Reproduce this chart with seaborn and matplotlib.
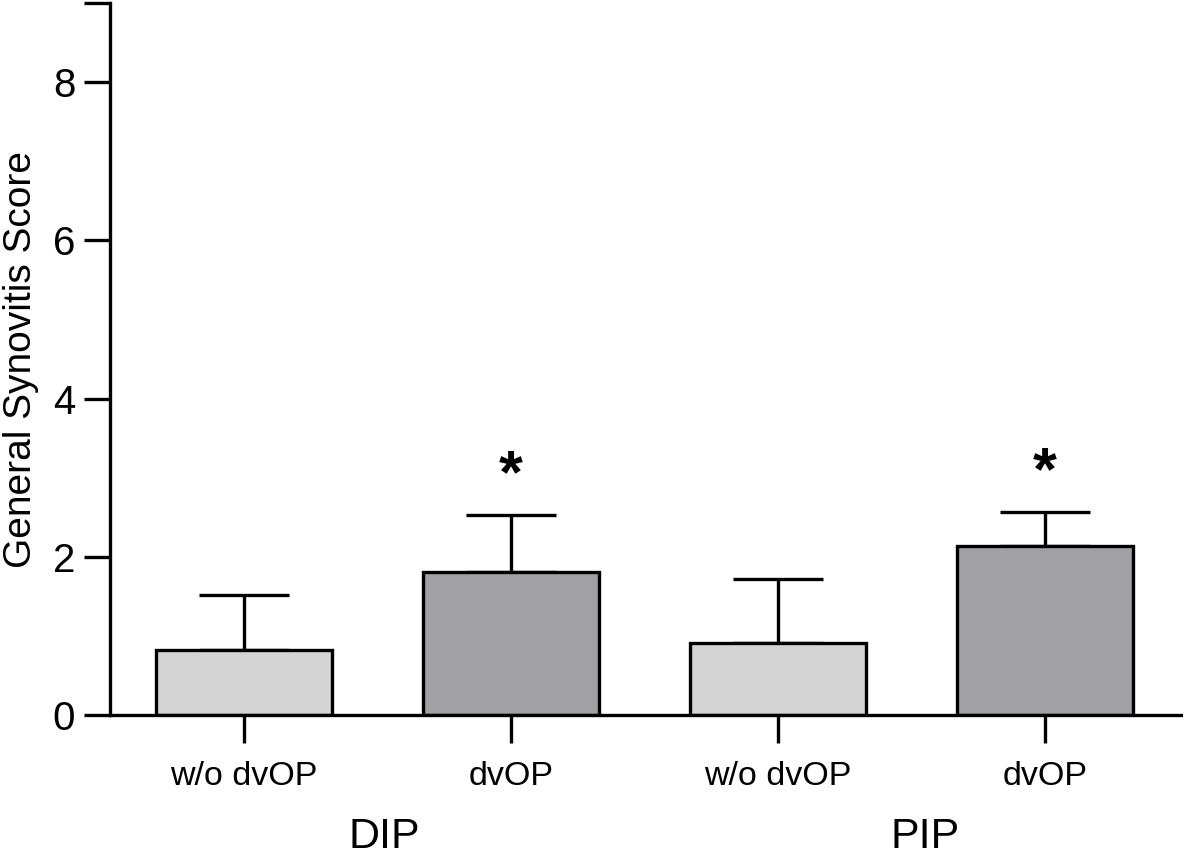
import numpy as np
import pandas as pd
import matplotlib
matplotlib.use("Agg")
import matplotlib.pyplot as plt
import seaborn as sns

# Values
groups = ["w/o dvOP", "dvOP", "w/o dvOP", "dvOP"]
joints = ["DIP", "DIP", "PIP", "PIP"]
means = [0.82, 1.81, 0.91, 2.13]
sd = [0.70, 0.72, 0.81, 0.44]
significant = [False, True, False, True]
bar_colors = ["#d4d4d4", "#a1a0a5", "#d4d4d4", "#a1a0a5"]

sns.set_theme(style="ticks")
plt.rcParams["font.family"] = ["Liberation Sans", "DejaVu Sans"]
plt.rcParams.update({"text.color": "black", "axes.labelcolor": "black",
                     "xtick.color": "black", "ytick.color": "black"})

df = pd.DataFrame({"bar": [f"{j} {g}" for j, g in zip(joints, groups)],
                   "score": means})

fig = plt.figure(figsize=(11.83, 8.6), dpi=100)
ax = fig.add_axes([110 / 1183, 145 / 860, 1073 / 1183, 712 / 860])

sns.barplot(data=df, x="bar", y="score", hue="bar", palette=bar_colors,
            legend=False, width=0.66, edgecolor="black", linewidth=2.4,
            errorbar=None, ax=ax, zorder=2)

x = np.arange(len(means))
ax.errorbar(x, means, yerr=[np.zeros(len(sd)), sd], fmt="none",
            ecolor="black", elinewidth=2.4, capsize=32.5, capthick=2.4, zorder=1)

for xi, m, s, sig in zip(x, means, sd, significant):
    if sig:
        ax.text(xi, m + s + 0.12, "*", ha="center", va="bottom",
                fontsize=44, fontweight="bold")

ax.set_xlim(-0.502, 3.517)
ax.set_ylim(0, 9)
ax.set_yticks([0, 2, 4, 6, 8, 9])
ax.set_yticklabels(["0", "2", "4", "6", "8", ""])
ax.set_xticks(x)
ax.set_xticklabels(groups)
ax.set_xlabel("")
ax.set_ylabel("General Synovitis Score", fontsize=28, labelpad=10)

ax.tick_params(axis="y", labelsize=29, length=19, width=2.4, pad=6)
ax.tick_params(axis="x", labelsize=24.5, length=20, width=2.4, pad=13)

sns.despine(ax=ax)
for side in ["left", "bottom"]:
    ax.spines[side].set_linewidth(2.4)
    ax.spines[side].set_color("black")

ax.text(0.524, -0.187, "DIP", transform=ax.get_xaxis_transform(),
        ha="center", va="baseline", fontsize=31)
ax.text(2.55, -0.187, "PIP", transform=ax.get_xaxis_transform(),
        ha="center", va="baseline", fontsize=31)

plt.savefig("out.png", dpi=100)
plt.close()
